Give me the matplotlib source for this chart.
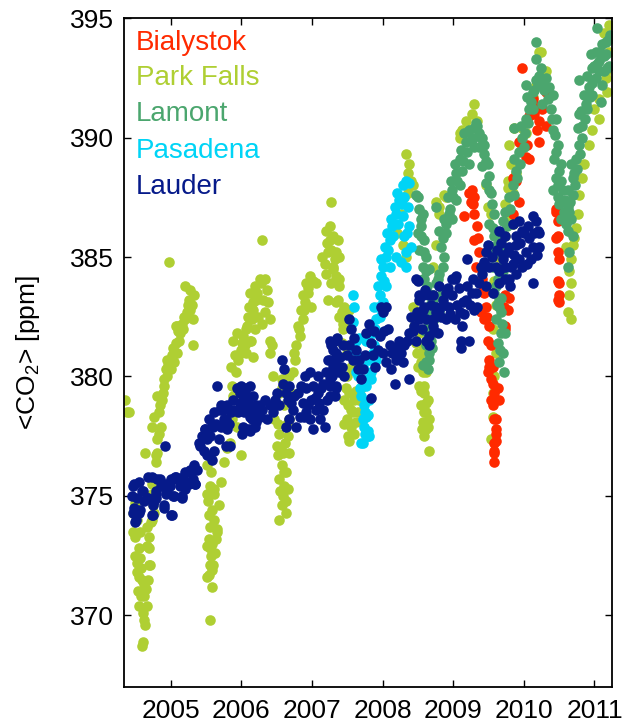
import matplotlib
matplotlib.use("Agg")
import matplotlib.pyplot as plt
import numpy as np

plt.rcParams['font.family'] = ['Liberation Sans', 'DejaVu Sans']
plt.rcParams['mathtext.default'] = 'regular'

# column-averaged CO2 (ppm) per site, as (decimal year, ppm)
park_falls = [
    (2004.36, 379.0), (2004.38, 378.5), (2004.41, 378.5),
    (2004.47, 374.3), (2004.47, 373.5), (2004.50, 374.7), (2004.53, 374.0), (2004.50, 373.3),
    (2004.55, 372.8), (2004.53, 372.2), (2004.57, 372.4), (2004.52, 371.8), (2004.55, 371.6),
    (2004.54, 371.0), (2004.58, 370.8), (2004.55, 370.4), (2004.61, 370.1), (2004.62, 369.8),
    (2004.64, 369.6), (2004.61, 368.9), (2004.60, 368.7), (2004.69, 373.3), (2004.69, 372.8),
    (2004.69, 372.1), (2004.68, 371.5), (2004.65, 371.1), (2004.67, 370.4), (2004.66, 372.9),
    (2004.71, 372.1), (2004.66, 373.7), (2004.72, 373.9), (2004.73, 374.0), (2004.76, 374.3),
    (2004.75, 374.6), (2004.74, 375.1), (2004.64, 376.8), (2004.74, 375.5), (2004.79, 376.4),
    (2004.58, 372.0), (2004.63, 371.3), (2004.59, 371.5), (2004.49, 372.5), (2004.56, 373.5),
    (2004.62, 370.8),
    (2004.79, 376.7), (2004.81, 377.4), (2004.86, 377.9), (2004.83, 378.5), (2004.88, 379.0),
    (2004.91, 379.6), (2004.95, 380.0), (2005.00, 380.3), (2005.05, 380.6), (2005.02, 380.9),
    (2005.09, 381.0), (2005.07, 381.4), (2005.12, 381.5), (2005.14, 381.8), (2005.09, 382.1),
    (2005.16, 382.2), (2005.19, 382.5), (2005.23, 382.7), (2005.21, 382.4), (2005.31, 382.4),
    (2005.31, 381.3), (2005.28, 382.8), (2005.26, 383.2), (2005.33, 383.4), (2005.28, 383.6),
    (2005.21, 383.8), (2004.98, 384.8), (2005.07, 382.1), (2004.95, 380.7), (2004.91, 379.9),
    (2004.81, 379.2), (2004.76, 378.3), (2004.74, 377.9), (2004.83, 377.6), (2004.81, 376.8),
    (2004.85, 378.8), (2004.89, 379.3), (2004.93, 380.3), (2004.97, 380.5), (2005.03, 381.2),
    (2005.11, 381.9), (2005.18, 382.0), (2005.24, 383.0), (2005.30, 383.0),
    (2005.52, 376.3), (2005.52, 375.1), (2005.61, 375.3), (2005.59, 374.4), (2005.68, 374.6),
    (2005.54, 374.2), (2005.56, 373.7), (2005.66, 373.6), (2005.54, 373.2), (2005.64, 373.2),
    (2005.56, 372.8), (2005.56, 372.1), (2005.59, 371.9), (2005.54, 371.7), (2005.59, 371.2),
    (2005.56, 369.8), (2005.75, 376.4), (2005.71, 375.6), (2005.61, 375.1), (2005.56, 375.4),
    (2005.65, 373.5), (2005.51, 372.9), (2005.60, 372.1), (2005.52, 371.6), (2005.53, 374.8),
    (2005.58, 373.0), (2005.62, 374.0), (2005.57, 376.0), (2005.63, 372.6), (2005.57, 372.5),
    (2005.80, 377.0), (2005.84, 377.2), (2005.94, 377.9), (2005.99, 376.7), (2005.87, 378.2),
    (2005.89, 379.2), (2005.87, 379.6), (2005.92, 380.2), (2005.85, 380.4), (2005.96, 380.7),
    (2005.99, 381.0), (2005.89, 381.5), (2005.94, 381.8), (2006.13, 383.5), (2006.11, 382.9),
    (2006.15, 382.4), (2006.08, 382.1), (2006.13, 381.5), (2006.06, 381.3), (2006.29, 385.7),
    (2006.26, 384.1), (2006.33, 384.1), (2006.19, 383.8), (2006.36, 383.6), (2006.21, 383.2),
    (2006.38, 383.1), (2006.17, 382.8), (2006.33, 382.7), (2006.12, 382.4), (2006.29, 382.2),
    (2006.40, 382.4), (2006.07, 382.0), (2006.19, 382.0), (2006.03, 381.7), (2006.14, 381.5),
    (2006.00, 381.1), (2006.07, 381.0), (2006.17, 380.8), (2006.40, 381.5), (2006.43, 381.3),
    (2006.40, 381.0), (2005.91, 380.9), (2006.01, 381.4), (2006.10, 382.5), (2006.16, 383.1),
    (2006.23, 383.5), (2006.28, 383.9), (2006.31, 383.2), (2006.24, 382.5),
    (2006.45, 380.0), (2006.54, 379.3), (2006.50, 378.8), (2006.47, 378.2), (2006.54, 377.6),
    (2006.50, 377.1), (2006.52, 376.7), (2006.59, 376.8), (2006.57, 376.3), (2006.64, 376.0),
    (2006.54, 375.7), (2006.61, 375.4), (2006.59, 375.0), (2006.66, 375.3), (2006.57, 374.6),
    (2006.64, 374.3), (2006.54, 374.0), (2006.68, 376.8), (2006.66, 377.5), (2006.68, 378.2),
    (2006.61, 378.8), (2006.71, 379.3), (2006.57, 379.9), (2006.68, 380.0), (2006.52, 378.0),
    (2006.56, 377.0), (2006.62, 377.2), (2006.60, 376.0), (2006.55, 375.2), (2006.63, 374.8),
    (2006.58, 379.5), (2006.65, 378.0),
    (2006.73, 380.2), (2006.76, 380.7), (2006.78, 381.3), (2006.83, 381.7), (2006.80, 382.1),
    (2006.87, 382.4), (2006.85, 382.8), (2006.90, 383.1), (2006.87, 383.4), (2006.94, 383.5),
    (2006.92, 383.9), (2006.97, 384.2), (2007.06, 383.9), (2006.99, 382.9), (2007.20, 386.1),
    (2007.25, 385.7), (2007.23, 385.2), (2007.34, 385.2), (2007.18, 384.7), (2007.30, 384.6),
    (2007.20, 384.3), (2007.34, 384.2), (2007.23, 383.2), (2007.34, 383.1), (2007.39, 384.1),
    (2007.39, 382.5), (2007.44, 382.0), (2007.49, 382.4), (2007.42, 381.4), (2007.49, 381.0),
    (2007.27, 387.3), (2007.25, 386.3), (2007.30, 385.9), (2007.37, 385.7), (2007.27, 385.3),
    (2007.39, 385.0), (2007.30, 384.5), (2007.27, 383.9), (2007.39, 383.8), (2007.37, 383.2),
    (2007.46, 382.9), (2007.42, 382.7), (2007.44, 382.2), (2007.53, 382.8),
    (2006.75, 381.0), (2006.82, 382.0), (2006.89, 382.8), (2006.95, 383.7), (2007.02, 384.0),
    (2007.15, 385.0), (2007.22, 385.6), (2007.32, 384.9),
    (2007.53, 379.3), (2007.46, 379.0), (2007.51, 378.8), (2007.58, 378.5), (2007.49, 378.2),
    (2007.56, 377.9), (2007.51, 377.5), (2007.60, 377.6), (2007.63, 378.1), (2007.65, 378.5),
    (2007.60, 379.0), (2007.67, 379.0), (2007.70, 379.5), (2007.53, 377.3), (2007.46, 378.0),
    (2007.49, 380.0), (2007.56, 380.4), (2007.55, 378.6), (2007.62, 379.4), (2007.48, 379.5),
    (2008.21, 386.0), (2008.26, 386.8), (2008.31, 387.5), (2008.36, 388.5), (2008.38, 388.9),
    (2008.33, 389.3), (2008.40, 388.2), (2008.36, 387.7), (2008.43, 388.0), (2008.29, 385.5),
    (2008.33, 385.0),
    (2008.43, 382.9), (2008.47, 382.5), (2008.45, 382.1), (2008.52, 381.8), (2008.47, 381.4),
    (2008.54, 381.0), (2008.50, 380.4), (2008.57, 380.2), (2008.52, 379.6), (2008.59, 379.3),
    (2008.54, 378.8), (2008.62, 378.5), (2008.57, 378.1), (2008.64, 377.9), (2008.59, 377.5),
    (2008.66, 376.9), (2008.57, 381.3), (2008.62, 380.2), (2008.59, 379.6), (2008.64, 379.0),
    (2008.59, 378.5), (2008.66, 378.2), (2008.62, 377.8), (2008.54, 380.6), (2008.49, 381.0),
    (2008.55, 379.4), (2008.61, 378.9), (2008.56, 377.8),
    (2008.80, 387.1), (2008.87, 387.6), (2009.09, 390.0), (2009.13, 390.3), (2009.18, 390.7),
    (2009.27, 391.0), (2009.30, 391.4), (2009.34, 390.7), (2009.46, 388.0), (2009.49, 387.1),
    (2008.75, 387.3), (2008.80, 386.8), (2008.90, 387.5), (2009.09, 390.2), (2009.53, 386.8),
    (2008.71, 384.6), (2008.76, 385.5),
    (2009.56, 379.3), (2009.53, 377.4), (2009.56, 378.3), (2009.58, 380.0), (2009.60, 381.0),
    (2009.56, 382.0), (2009.61, 383.0), (2009.58, 384.0), (2009.63, 385.0),
    (2009.79, 386.6), (2009.74, 387.2), (2009.77, 388.2), (2009.82, 388.9), (2009.79, 389.7),
    (2009.86, 390.4), (2009.98, 390.4), (2010.13, 391.7), (2010.17, 392.2), (2010.31, 392.8),
    (2010.24, 393.6), (2009.84, 386.4), (2009.74, 385.9), (2009.72, 386.5), (2009.84, 387.7),
    (2009.77, 387.9), (2009.89, 388.5), (2009.96, 389.5), (2010.03, 390.2), (2010.22, 393.6),
    (2010.64, 386.1), (2010.74, 386.2), (2010.69, 385.5), (2010.67, 384.9), (2010.64, 384.4),
    (2010.67, 383.9), (2010.64, 383.4), (2010.62, 382.7), (2010.67, 382.4), (2010.60, 385.4),
    (2010.71, 385.8), (2010.76, 386.8),
    (2010.78, 387.6), (2010.83, 388.3), (2010.92, 389.7), (2010.97, 390.3), (2010.99, 391.2),
    (2011.16, 392.5), (2011.13, 394.4), (2011.20, 393.6), (2011.18, 391.9), (2011.06, 390.8),
    (2010.85, 388.9), (2011.16, 392.8), (2011.06, 391.6), (2011.20, 394.7),
]

lamont = [
    (2008.50, 387.5), (2008.52, 387.0), (2008.54, 386.6), (2008.50, 386.0), (2008.59, 385.7),
    (2008.52, 385.3), (2008.62, 385.0), (2008.57, 384.6), (2008.66, 384.5), (2008.59, 384.1),
    (2008.64, 383.5), (2008.71, 383.2), (2008.66, 382.7), (2008.73, 382.4), (2008.64, 382.1),
    (2008.68, 381.5), (2008.62, 381.3), (2008.66, 380.7), (2008.64, 380.3), (2008.75, 383.9),
    (2008.54, 386.3), (2008.57, 386.8), (2008.57, 384.1), (2008.64, 383.4), (2008.59, 382.7),
    (2008.66, 381.0), (2008.62, 380.6), (2008.57, 380.5), (2008.47, 387.6),
    (2008.55, 385.9), (2008.58, 385.2), (2008.61, 384.4), (2008.63, 383.8), (2008.67, 383.0),
    (2008.69, 382.0), (2008.70, 381.2), (2008.60, 381.9),
    (2008.80, 382.7), (2008.83, 383.4), (2008.78, 384.1), (2008.85, 384.6), (2008.83, 385.4),
    (2008.90, 386.0), (2008.87, 386.6), (2008.94, 386.8), (2008.92, 387.5), (2008.99, 387.8),
    (2008.97, 388.2), (2009.04, 388.5), (2009.02, 388.9), (2009.09, 389.1), (2009.11, 389.5),
    (2009.18, 389.8), (2009.16, 390.2), (2009.23, 390.3), (2009.27, 389.9), (2009.34, 390.5),
    (2009.32, 390.6), (2009.41, 390.0), (2009.37, 389.6), (2009.44, 389.3), (2009.49, 388.9),
    (2009.41, 388.8), (2009.51, 388.4), (2009.46, 388.1), (2009.53, 387.7), (2009.58, 386.8),
    (2009.51, 386.4), (2009.58, 385.9), (2009.53, 385.4), (2008.80, 386.1), (2008.75, 387.1),
    (2008.99, 386.6), (2009.09, 388.0), (2009.23, 388.9), (2009.30, 389.6), (2008.80, 384.3),
    (2008.71, 383.4), (2009.39, 390.0), (2009.04, 387.4), (2009.13, 388.6), (2008.87, 385.0),
    (2008.85, 385.8), (2008.90, 386.4), (2008.96, 387.0), (2009.00, 387.5), (2009.06, 388.2),
    (2009.14, 389.0), (2009.20, 389.4), (2009.26, 390.0), (2009.29, 390.4), (2009.36, 390.2),
    (2009.43, 389.7), (2009.47, 389.0), (2009.50, 387.8), (2009.55, 387.2), (2009.56, 386.2),
    (2009.60, 385.2), (2009.56, 384.6), (2009.63, 384.1), (2009.58, 383.5), (2009.65, 382.9),
    (2009.60, 382.4), (2009.67, 381.8), (2009.63, 381.4), (2009.70, 381.0), (2009.65, 380.6),
    (2009.72, 380.2), (2009.67, 382.7), (2009.65, 386.0), (2009.70, 384.6), (2009.65, 383.2),
    (2009.74, 381.8), (2009.62, 385.5), (2009.61, 383.8), (2009.68, 383.3), (2009.62, 383.0),
    (2009.69, 382.2), (2009.66, 381.1),
    (2009.70, 386.5), (2009.74, 386.9), (2009.79, 387.5), (2009.84, 388.0), (2009.89, 388.6),
    (2009.86, 389.1), (2009.93, 389.4), (2009.98, 390.0), (2009.96, 390.5), (2010.03, 390.8),
    (2010.08, 391.2), (2010.05, 391.7), (2010.13, 391.9), (2010.17, 392.4), (2010.22, 392.6),
    (2010.26, 392.2), (2010.31, 392.5), (2010.17, 394.0), (2010.17, 393.3), (2010.03, 392.2),
    (2010.13, 391.2), (2010.26, 391.4), (2009.72, 385.9), (2009.74, 385.2), (2009.70, 384.4),
    (2009.86, 390.4), (2009.76, 386.3), (2009.81, 387.0), (2009.86, 387.6), (2009.91, 388.3),
    (2009.95, 388.9), (2010.00, 389.6), (2010.01, 390.2), (2010.06, 390.6), (2010.10, 391.5),
    (2010.15, 392.0), (2010.20, 392.2), (2010.24, 392.9),
    (2010.36, 392.1), (2010.41, 391.8), (2010.38, 391.2), (2010.46, 390.8), (2010.41, 390.3),
    (2010.48, 389.7), (2010.43, 389.1), (2010.50, 388.6), (2010.48, 388.0), (2010.55, 387.8),
    (2010.50, 387.2), (2010.57, 386.9), (2010.53, 386.6), (2010.60, 386.4), (2010.46, 388.3),
    (2010.48, 387.5), (2010.55, 386.6), (2010.62, 386.1), (2010.67, 386.6), (2010.60, 386.7),
    (2010.41, 387.8), (2010.69, 385.9), (2010.64, 385.2), (2010.62, 384.6),
    (2010.28, 392.0), (2010.34, 391.6), (2010.40, 390.8), (2010.44, 390.1), (2010.46, 389.4),
    (2010.52, 388.9), (2010.53, 388.2), (2010.58, 387.4), (2010.62, 387.1),
    (2010.64, 386.9), (2010.62, 387.8), (2010.69, 388.3), (2010.67, 388.9), (2010.74, 389.1),
    (2010.71, 388.5), (2010.78, 389.7), (2010.76, 390.4), (2010.83, 390.5), (2010.81, 391.1),
    (2010.88, 391.4), (2010.85, 391.8), (2010.92, 392.1), (2010.90, 392.6), (2010.97, 392.9),
    (2010.95, 393.5), (2011.02, 393.6), (2011.06, 393.2), (2011.11, 393.9), (2011.16, 393.5),
    (2011.04, 394.6), (2011.16, 394.0), (2011.18, 392.9), (2011.11, 392.2), (2011.02, 392.5),
    (2010.97, 391.8), (2010.78, 391.0), (2010.78, 392.4), (2011.20, 393.0), (2011.22, 394.3),
    (2011.09, 391.5), (2010.66, 387.3), (2010.70, 387.6), (2010.72, 388.0), (2010.75, 388.7),
    (2010.80, 389.3), (2010.82, 390.0), (2010.86, 390.8), (2010.90, 391.2), (2010.93, 391.7),
    (2010.96, 392.3), (2011.00, 393.0), (2011.04, 393.1), (2011.08, 393.6), (2011.13, 393.4),
    (2011.19, 394.1), (2011.14, 392.8), (2011.07, 392.8),
]

pasadena = [
    (2007.58, 383.4), (2007.60, 382.9), (2007.58, 382.3), (2007.63, 381.5), (2007.60, 381.1),
    (2007.67, 380.8), (2007.72, 380.4), (2007.65, 380.0), (2007.72, 379.6), (2007.70, 379.2),
    (2007.74, 378.8), (2007.77, 378.3), (2007.72, 378.2), (2007.79, 377.5), (2007.72, 377.2),
    (2007.81, 379.0), (2007.84, 379.9), (2007.81, 380.7), (2007.88, 381.3), (2007.86, 381.8),
    (2007.91, 382.4), (2007.88, 382.9), (2007.96, 383.4), (2007.93, 383.8), (2007.98, 384.2),
    (2008.00, 384.6), (2007.98, 384.9), (2008.05, 385.0), (2008.03, 385.4), (2008.10, 385.7),
    (2008.07, 386.0), (2008.14, 386.3), (2008.12, 386.6), (2008.19, 386.8), (2008.17, 387.1),
    (2008.24, 387.4), (2008.21, 387.7), (2008.29, 388.0), (2008.33, 388.2), (2008.38, 388.1),
    (2008.31, 387.5), (2008.36, 387.1), (2008.29, 386.7), (2008.38, 386.3), (2008.31, 385.9),
    (2008.40, 385.4), (2008.33, 385.2), (2008.26, 384.8), (2008.33, 384.6), (2008.19, 385.0),
    (2008.10, 384.6), (2008.05, 383.8), (2008.00, 383.1), (2007.96, 382.5), (2007.77, 381.5),
    (2007.96, 381.8), (2007.91, 380.7), (2007.84, 380.2), (2007.77, 379.6), (2007.81, 377.5),
    (2007.70, 377.2), (2007.77, 379.9), (2007.79, 377.7), (2007.74, 377.9),
    (2007.75, 378.5), (2007.80, 378.4), (2007.83, 380.8), (2007.86, 381.0), (2007.90, 382.0),
    (2007.94, 382.9), (2008.02, 384.0), (2008.08, 385.3), (2008.15, 385.9), (2008.22, 386.4),
    (2008.27, 387.2), (2008.35, 386.0), (2007.62, 380.2), (2007.68, 379.5), (2007.66, 381.6),
    (2007.75, 377.6),
]

lauder = [
    (2004.47, 375.4), (2004.52, 374.9), (2004.47, 374.3), (2004.50, 373.9), (2004.57, 374.4),
    (2004.61, 375.2), (2004.68, 375.8), (2004.68, 374.9), (2004.75, 374.6), (2004.75, 374.2),
    (2004.80, 375.1), (2004.85, 375.7), (2004.90, 375.4), (2004.92, 377.1), (2004.94, 375.1),
    (2004.99, 375.4), (2005.04, 375.0), (2005.01, 374.2), (2004.90, 374.6), (2005.08, 375.7),
    (2005.13, 375.4), (2005.16, 375.0), (2005.18, 375.8), (2005.23, 375.6), (2005.27, 376.0),
    (2005.32, 375.7), (2005.37, 376.1), (2005.34, 375.5), (2005.20, 375.3), (2005.06, 375.8),
    (2004.45, 375.0), (2004.80, 374.9), (2004.48, 375.5), (2004.55, 375.6), (2004.60, 375.2),
    (2004.67, 374.9), (2004.74, 375.8), (2004.81, 375.7), (2004.86, 375.4), (2004.95, 375.2),
    (2004.93, 375.5), (2005.00, 375.7), (2005.07, 375.8), (2005.14, 375.7), (2005.21, 376.0),
    (2005.28, 376.1), (2005.33, 376.2), (2005.35, 375.5), (2005.26, 375.5), (2005.16, 374.9),
    (2005.05, 375.0), (2005.02, 374.2), (2004.91, 374.5), (2004.76, 374.8), (2004.74, 374.2),
    (2004.55, 374.3), (2004.51, 374.0), (2004.48, 374.5), (2004.62, 374.8), (2004.79, 375.2),
    (2005.66, 379.6), (2005.71, 378.8), (2005.61, 378.5), (2005.54, 378.2), (2005.64, 378.0),
    (2005.49, 377.8), (2005.56, 377.5), (2005.40, 377.2), (2005.47, 376.9), (2005.61, 376.9),
    (2005.52, 376.7), (2005.59, 376.5), (2005.33, 376.3), (2005.78, 377.1), (2005.80, 377.8),
    (2005.75, 378.2), (2005.85, 378.5), (2005.80, 378.8), (2005.94, 379.5), (2005.89, 379.0),
    (2005.99, 379.6), (2006.06, 379.3), (2006.13, 379.6), (2006.11, 378.8), (2006.04, 378.5),
    (2006.15, 378.2), (2006.08, 377.8), (2005.96, 378.5), (2006.01, 377.6), (2005.71, 377.9),
    (2005.41, 377.1), (2005.51, 377.4), (2005.48, 377.8), (2005.60, 377.9), (2005.70, 378.6),
    (2005.79, 378.2), (2005.84, 377.1), (2005.98, 378.9), (2006.07, 379.5), (2006.17, 379.2),
    (2006.26, 378.8), (2006.36, 378.2), (2006.21, 378.1), (2006.12, 377.8),
    (2005.44, 377.5), (2005.58, 378.0), (2005.68, 377.4), (2005.74, 378.6), (2005.82, 378.0),
    (2005.90, 378.6), (2006.02, 379.0), (2006.09, 379.0), (2006.16, 378.6), (2006.23, 378.5),
    (2006.30, 378.6),
    (2005.98, 379.3), (2006.05, 378.8), (2006.21, 378.8), (2006.12, 378.3), (2006.26, 378.3),
    (2006.03, 377.9), (2006.19, 377.9), (2006.40, 378.8), (2006.33, 379.0), (2006.12, 377.7),
    (2006.45, 378.5), (2006.54, 378.8), (2006.50, 379.3), (2006.59, 379.7), (2006.61, 380.3),
    (2006.68, 379.6), (2006.66, 379.0), (2006.73, 378.6), (2006.68, 378.2), (2006.78, 377.9),
    (2006.83, 378.3), (2006.87, 378.9), (2006.80, 379.3), (2006.92, 379.5), (2006.90, 380.0),
    (2006.97, 380.2), (2007.01, 379.6), (2006.99, 379.0), (2007.06, 378.6), (2006.97, 378.2),
    (2007.11, 378.2), (2007.18, 377.9), (2007.16, 378.6), (2007.08, 379.3), (2007.16, 379.7),
    (2007.08, 380.0), (2007.20, 380.2), (2007.25, 379.9), (2007.23, 380.7), (2007.27, 381.3),
    (2007.32, 381.5), (2007.34, 381.0), (2007.30, 380.4), (2007.37, 380.4), (2007.34, 379.6),
    (2007.32, 379.2), (2007.25, 379.2), (2007.01, 377.8), (2006.64, 377.9), (2006.92, 378.5),
    (2006.57, 380.7), (2006.48, 379.0), (2006.63, 379.3), (2006.70, 378.9), (2006.75, 379.2),
    (2006.85, 379.6), (2006.89, 378.3), (2006.95, 378.8), (2007.04, 379.1), (2007.10, 378.9),
    (2007.13, 379.5), (2007.22, 379.0), (2007.28, 380.0), (2007.36, 381.6), (2007.40, 380.8),
    (2007.25, 381.5), (2007.30, 381.1), (2007.25, 380.7), (2007.34, 380.7), (2007.30, 380.2),
    (2007.39, 380.2), (2007.25, 379.6), (2007.34, 379.5), (2007.44, 381.3), (2007.49, 380.9),
    (2007.42, 380.4), (2007.46, 380.0), (2007.53, 381.3), (2007.56, 382.0), (2007.53, 382.4),
    (2007.58, 380.7), (2007.63, 381.1), (2007.67, 380.7), (2007.72, 380.3), (2007.70, 379.9),
    (2007.77, 381.8), (2007.81, 382.2), (2007.84, 381.4), (2007.86, 380.9), (2007.93, 381.1),
    (2007.96, 381.7), (2007.98, 382.9), (2008.00, 382.7), (2008.05, 382.9), (2008.00, 381.0),
    (2008.05, 380.6), (2008.10, 381.3), (2008.12, 380.3), (2008.17, 379.7), (2008.19, 380.7),
    (2008.24, 381.5), (2008.26, 381.0), (2008.31, 381.3), (2008.38, 381.8), (2008.40, 382.5),
    (2008.45, 382.1), (2008.47, 384.1), (2008.52, 383.4), (2008.54, 382.5), (2008.59, 382.9),
    (2008.66, 383.4), (2008.71, 382.4), (2008.75, 382.9), (2008.78, 381.8), (2008.66, 381.7),
    (2008.47, 381.5), (2008.38, 379.9), (2007.84, 379.1), (2008.50, 384.0), (2008.57, 383.4),
    (2007.60, 381.6), (2007.65, 380.3), (2007.75, 380.9), (2007.88, 381.9), (2007.90, 380.4),
    (2008.02, 381.9), (2008.08, 382.0), (2008.14, 381.0), (2008.21, 381.2), (2008.29, 380.6),
    (2008.34, 381.5), (2008.43, 381.9), (2008.49, 382.7), (2008.56, 382.0), (2008.60, 383.6),
    (2008.52, 383.2), (2008.57, 382.8), (2008.52, 382.4), (2008.62, 382.4), (2008.71, 383.4),
    (2008.75, 382.7), (2008.71, 382.1), (2008.80, 383.8), (2008.85, 383.2), (2008.90, 383.5),
    (2008.94, 382.9), (2008.99, 383.4), (2008.99, 384.1), (2009.02, 382.4), (2009.09, 382.7),
    (2009.13, 382.1), (2009.11, 381.5), (2009.23, 381.5), (2009.18, 383.2), (2009.27, 383.5),
    (2009.30, 382.8), (2009.20, 383.8), (2009.20, 384.9), (2009.02, 384.1), (2009.37, 383.9),
    (2009.39, 384.6), (2009.34, 382.9), (2008.62, 381.5), (2008.66, 381.3), (2009.11, 381.2),
    (2008.80, 382.8), (2008.90, 382.4), (2009.04, 384.2), (2008.69, 383.0), (2008.73, 381.9),
    (2008.83, 382.5), (2008.87, 383.0), (2008.93, 383.7), (2008.96, 382.6), (2009.06, 383.0),
    (2009.08, 383.7), (2009.14, 383.1), (2009.16, 382.6), (2009.24, 383.0), (2009.28, 384.1),
    (2009.33, 383.5),
    (2009.46, 385.2), (2009.51, 384.6), (2009.60, 384.6), (2009.70, 384.9), (2009.79, 385.4),
    (2009.89, 385.9), (2009.82, 384.6), (2009.74, 384.1), (2009.65, 383.9), (2009.46, 383.8),
    (2009.56, 383.5), (2009.41, 384.3), (2009.65, 386.1), (2009.74, 385.9), (2009.84, 386.4),
    (2009.93, 386.5), (2009.98, 386.1), (2010.08, 385.8), (2010.17, 386.5), (2010.20, 386.1),
    (2010.13, 385.4), (2010.03, 385.2), (2009.93, 384.9), (2009.84, 384.7), (2009.74, 384.6),
    (2009.65, 384.4), (2009.79, 384.1), (2009.89, 384.3), (2010.13, 383.9), (2009.70, 385.1),
    (2010.05, 384.7), (2009.89, 385.5), (2010.22, 385.4), (2010.10, 384.9), (2010.13, 386.7),
    (2010.22, 386.0), (2009.43, 384.8), (2009.49, 385.5), (2009.55, 385.0), (2009.62, 385.3),
    (2009.68, 385.6), (2009.77, 385.2), (2009.86, 385.1), (2009.95, 385.6), (2010.00, 386.0),
    (2010.06, 386.3), (2010.15, 386.0), (2010.18, 385.1), (2009.97, 384.6), (2009.81, 383.8),
]

bialystok = [
    (2009.23, 387.7), (2009.27, 387.8), (2009.25, 387.3), (2009.30, 386.8), (2009.16, 386.7),
    (2009.34, 386.3), (2009.30, 385.7), (2009.37, 385.2), (2009.32, 384.6), (2009.39, 384.6),
    (2009.41, 384.1), (2009.44, 383.5), (2009.46, 382.9), (2009.44, 382.4), (2009.51, 382.1),
    (2009.49, 381.5), (2009.53, 381.3), (2009.51, 380.7), (2009.56, 380.4), (2009.53, 379.9),
    (2009.58, 379.3), (2009.56, 378.8), (2009.58, 378.2), (2009.60, 377.6), (2009.58, 377.2),
    (2009.58, 376.8), (2009.58, 376.4), (2009.39, 382.7), (2009.74, 383.4), (2009.77, 382.8),
    (2009.74, 382.1), (2009.30, 387.5), (2009.51, 380.4), (2009.56, 379.7), (2009.63, 379.5),
    (2009.53, 379.0), (2009.60, 378.2), (2009.60, 377.8), (2009.60, 377.3), (2009.58, 376.9),
    (2009.65, 379.0), (2009.49, 380.2), (2009.28, 387.2), (2009.35, 385.8), (2009.42, 383.8),
    (2009.48, 382.5),
    (2009.74, 382.0), (2009.72, 382.9), (2009.79, 383.3), (2009.93, 387.3), (2009.84, 388.3),
    (2010.08, 389.1), (2010.22, 389.8), (2010.15, 391.0), (2010.31, 391.9), (2010.13, 391.4),
    (2009.98, 392.9), (2010.13, 391.6), (2010.22, 390.7), (2010.08, 390.9), (2010.31, 390.5),
    (2010.03, 389.2), (2009.93, 389.8), (2009.89, 388.2), (2009.84, 386.8), (2010.18, 390.3),
    (2010.26, 391.2), (2010.05, 389.7),
    (2010.46, 386.9), (2010.48, 386.5), (2010.46, 385.8), (2010.48, 385.2), (2010.50, 384.9),
    (2010.48, 384.0), (2010.50, 383.4), (2010.48, 383.2), (2010.46, 387.0), (2010.48, 385.9),
    (2010.50, 383.9), (2010.50, 383.1),
]

sites = ['Bialystok', 'Park Falls', 'Lamont', 'Pasadena', 'Lauder']
colors = {
    'Bialystok': '#ff2a00',
    'Park Falls': '#afcf33',
    'Lamont': '#4ba66e',
    'Pasadena': '#00d4f6',
    'Lauder': '#061a8a',
}
data = {
    'Bialystok': bialystok,
    'Park Falls': park_falls,
    'Lamont': lamont,
    'Pasadena': pasadena,
    'Lauder': lauder,
}
draw_order = ['Park Falls', 'Bialystok', 'Lamont', 'Pasadena', 'Lauder']

fig = plt.figure(figsize=(6.23, 7.27), dpi=100)
ax = fig.add_axes([0.199, 0.055, 0.783, 0.920])

for name in draw_order:
    pts = np.array(data[name])
    ax.scatter(pts[:, 0], pts[:, 1], s=58, c=colors[name], linewidths=0, zorder=2)

ax.set_xlim(2004.34, 2011.245)
ax.set_ylim(367.0, 395.0)
ax.set_xticks([2005, 2006, 2007, 2008, 2009, 2010, 2011])
ax.set_yticks([370, 375, 380, 385, 390, 395])
ax.tick_params(direction='in', length=5, width=1, top=True, right=True,
               labelsize=19)
ax.tick_params(axis='x', pad=8.5)
ax.tick_params(axis='y', pad=7)
for sp in ax.spines.values():
    sp.set_linewidth(1.3)

ax.set_ylabel('<CO$_2$> [ppm]', fontsize=19)
ax.yaxis.set_label_coords(-0.168, 0.5)

# site names in their marker colours, top left
ypos = [0.963, 0.911, 0.857, 0.801, 0.747]
for name, yy in zip(sites, ypos):
    ax.text(0.025, yy, name, color=colors[name], fontsize=20,
            transform=ax.transAxes, ha='left', va='center')

fig.savefig('out.png', dpi=100)
